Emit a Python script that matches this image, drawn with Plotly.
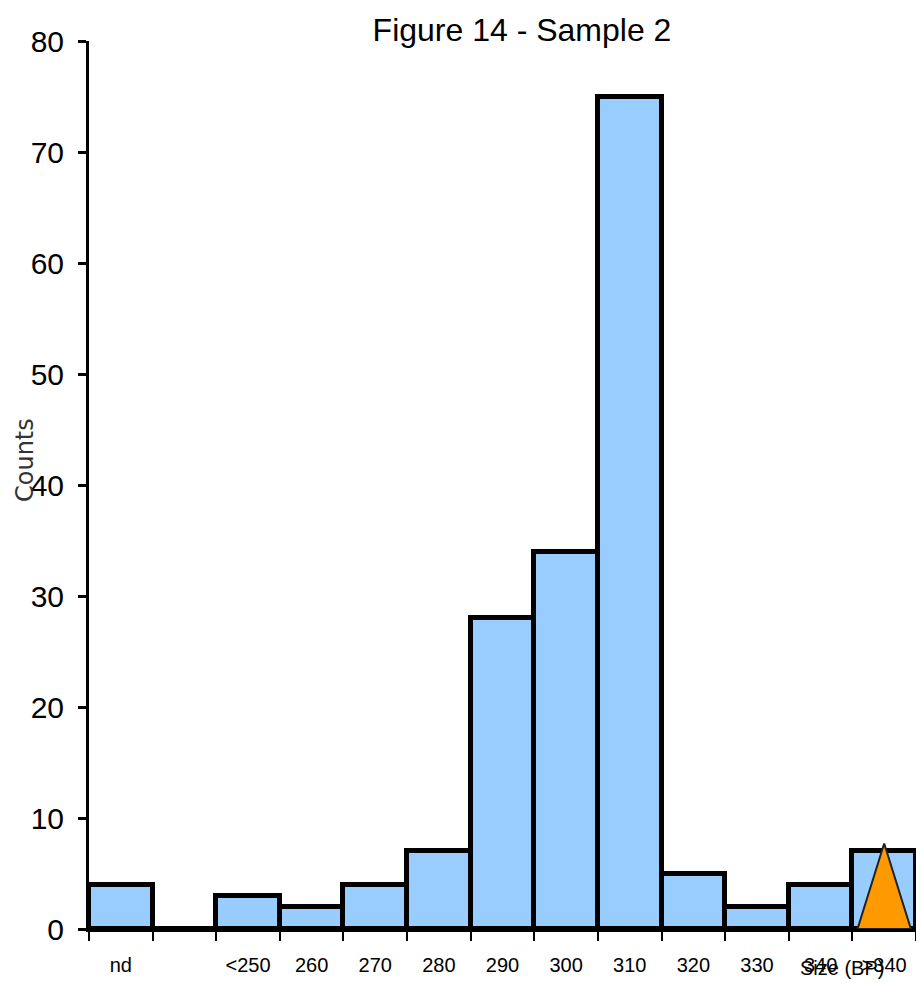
import plotly.graph_objects as go

categories = ["nd", "", "<250", "260", "270", "280", "290", "300", "310", "320", "330", "340", ">340"]
counts = [4, 0, 3, 2, 4, 7, 28, 34, 75, 5, 2, 4, 7]
marker_bin = ">340"
marker_height = 7.7
y_ticks = [0, 10, 20, 30, 40, 50, 60, 70, 80]

NARROW = "Liberation Sans Narrow, Arial Narrow, Liberation Sans, Arial, sans-serif"

xpos = list(range(len(categories)))
mi = categories.index(marker_bin)
half = 0.42

fig = go.Figure()
fig.add_trace(go.Bar(
    x=xpos, y=counts, width=1.0,
    marker=dict(color="#99CCFF", line=dict(color="black", width=5)),
    showlegend=False, hoverinfo="x+y",
))
fig.add_trace(go.Scatter(
    x=[mi - half, mi, mi + half, mi - half],
    y=[0, marker_height, 0, 0],
    mode="lines", fill="toself", fillcolor="#FF9900",
    line=dict(color="#222222", width=2), showlegend=False,
))

fig.update_layout(
    width=916, height=984,
    margin=dict(l=89, r=0, t=41, b=55),
    paper_bgcolor="white", plot_bgcolor="white",
    bargap=0,
    title=dict(text="Figure 14 - Sample 2", x=522/916, xanchor="center",
               y=1 - 30/984, yanchor="middle", yref="container",
               font=dict(family=NARROW, size=32, color="black")),
    font=dict(family=NARROW, color="black"),
)
fig.update_xaxes(
    range=[-0.5, len(categories) - 0.5],
    tickmode="array", tickvals=xpos, ticktext=categories,
    ticks="", showgrid=False, zeroline=False,
    showline=True, linecolor="black", linewidth=3,
    tickfont=dict(family=NARROW, size=20, color="black"),
    ticklabelstandoff=16,
    minor=dict(tickmode="linear", tick0=-0.5, dtick=1, ticks="outside",
               ticklen=9, tickwidth=2, tickcolor="black", showgrid=False),
)
fig.update_yaxes(
    range=[0, 80], tickmode="array", tickvals=y_ticks,
    ticks="outside", ticklen=8, tickwidth=3, tickcolor="black",
    showgrid=False, zeroline=False,
    showline=True, linecolor="black", linewidth=3,
    tickfont=dict(family=NARROW, size=30, color="black"),
    ticklabelstandoff=8,
)
fig.add_annotation(text="Counts", xref="paper", yref="paper",
                   x=-64/827, y=(929-460)/888, xanchor="center", yanchor="middle",
                   textangle=-90, showarrow=False,
                   font=dict(family="DejaVu Sans, Arial, sans-serif", size=24, color="#333333"))
fig.add_annotation(text="Size (BP)", xref="paper", yref="paper",
                   x=(842-89)/827, y=-(968-929)/888, xanchor="center", yanchor="middle",
                   showarrow=False,
                   font=dict(family=NARROW, size=20, color="black"))

fig.write_html("out.html")
